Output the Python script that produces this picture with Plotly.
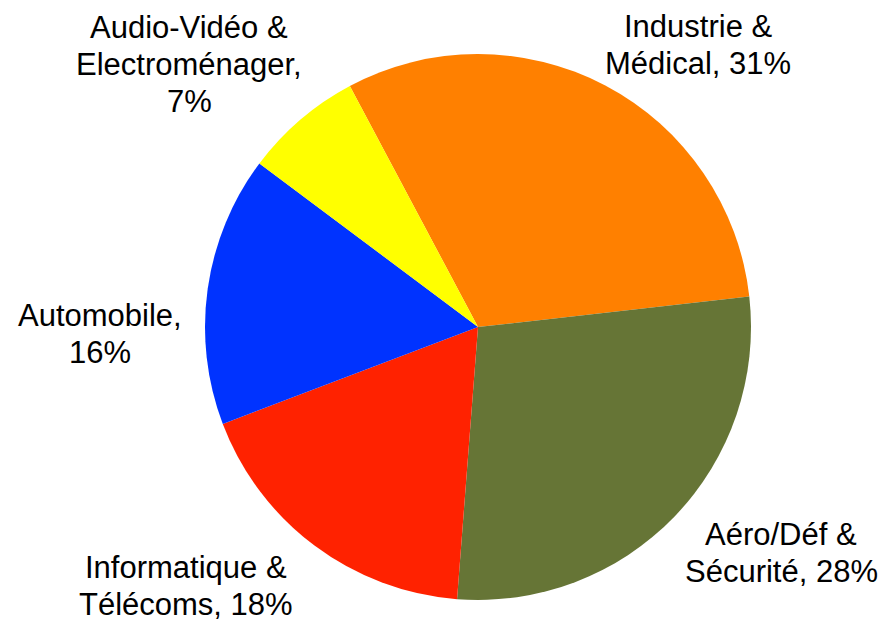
import plotly.graph_objects as go

# secteurs, dans l'ordre horaire à partir d'Industrie & Médical
secteurs = ["Industrie &<br>Médical", "Aéro/Déf &<br>Sécurité", "Informatique &<br>Télécoms",
            "Automobile", "Audio-Vidéo &<br>Electroménager"]
parts = [31, 28, 18, 16, 7]
couleurs = ["#FF8000", "#667536", "#FF2200", "#0033FF", "#FFFF00"]

# texte des étiquettes (retours à la ligne comme sur l'original)
etiquettes = ["Industrie &<br>Médical, 31%", "Aéro/Déf &<br>Sécurité, 28%",
              "Informatique &<br>Télécoms, 18%", "Automobile,<br>16%",
              "Audio-Vidéo &<br>Electroménager,<br>7%"]
# centre des étiquettes en pixels de la fenêtre (x, y depuis le haut)
pos_etiquettes = [(698, 45), (781, 553), (186, 586), (100, 334), (189, 64)]
interligne = 37

# la page a une marge de 8 px : la figure commence à (8, 8)
M = 8
W, H = 886 - 2 * M, 622 - M
cx, cy, r = 478 - M, 327 - M, 273

fig = go.Figure()
fig.add_trace(go.Pie(
    labels=secteurs, values=parts, sort=False, direction="clockwise",
    rotation=-28, marker=dict(colors=couleurs, line=dict(width=0)),
    textinfo="none", hoverinfo="label+percent", showlegend=False,
    domain=dict(x=[(cx - r) / W, (cx + r) / W], y=[1 - (cy + r) / H, 1 - (cy - r) / H]),
))

# une annotation par ligne pour régler l'interligne
for txt, (px, py) in zip(etiquettes, pos_etiquettes):
    lignes = txt.split("<br>")
    n = len(lignes)
    for i, ligne in enumerate(lignes):
        ly = py + (i - (n - 1) / 2) * interligne
        fig.add_annotation(text=ligne, x=(px - M) / W, y=1 - (ly - M) / H,
                           xref="paper", yref="paper", xanchor="center", yanchor="middle",
                           showarrow=False, borderpad=0,
                           font=dict(family="Liberation Sans, Arial", size=31, color="black"))

fig.update_layout(width=W, height=H, margin=dict(l=0, r=0, t=0, b=0),
                  paper_bgcolor="white", plot_bgcolor="white")
fig.write_html("out.html")
